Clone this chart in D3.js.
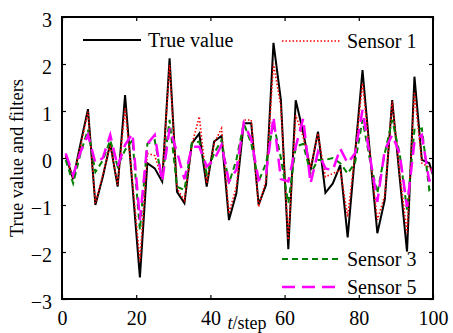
<!DOCTYPE html>
<html><head><meta charset="utf-8">
<script src="https://cdn.jsdelivr.net/npm/d3@7"></script>
<style>body{margin:0;background:#fff}svg{display:block}text{font-family:"Liberation Serif","Times New Roman",serif}</style>
</head><body>
<svg id="c" width="453" height="333"></svg>
<script>
const steps = [1,3,5,7,9,11,13,15,17,19,21,23,25,27,29,31,33,35,37,39,41,43,45,47,49,51,53,55,57,59,61,63,65,67,69,71,73,75,77,79,81,83,85,87,89,91,93,95,97,99,100];
const trueValue = [0.06,-0.45,0.31,1.04,-1.0,-0.4,0.31,-0.61,1.34,-0.6,-2.54,-0.11,-0.22,-0.5,2.12,-0.72,-0.96,0.31,0.52,-0.61,0.35,0.47,-1.32,-0.75,0.74,0.74,-0.99,-0.57,2.45,1.23,-1.94,1.23,0.55,-0.26,0.56,-0.74,-0.54,-0.15,-1.69,0.1,1.87,0.1,-1.6,-0.89,1.23,-0.4,-1.99,1.73,-0.04,-0.11,-0.36];
const sensor1 = [0.03,-0.43,0.24,0.99,-0.96,-0.36,0.28,-0.57,1.06,-0.5,-2.2,0.1,0.05,-0.45,1.98,-0.65,-0.9,0.28,0.88,-0.54,0.31,0.63,-1.18,-0.61,0.81,0.81,-1.04,-0.47,2.01,1.1,-1.74,0.91,0.45,-0.2,0.52,-0.4,-0.33,-0.26,-1.25,0.1,1.59,0.1,-1.32,-0.8,1.2,-0.3,-1.6,1.41,-0.11,-0.2,-0.3];
const sensor3 = [-0.04,-0.54,0.1,0.6,-0.3,-0.05,0.38,-0.18,0.17,0.38,-1.53,0.3,0.38,-0.47,0.81,-0.61,-0.68,0.31,0.35,-0.33,0.1,0.38,-0.54,-0.04,0.74,0.31,-0.5,-0.11,0.74,0.0,-0.96,0.24,0.3,-0.33,-0.04,-0.04,0.0,-0.11,-0.33,-0.1,0.81,-0.04,-0.75,0.1,0.81,0.1,-1.1,0.6,0.63,-0.68,-0.6];
const sensor5 = [0.1,-0.36,0.13,0.49,-0.1,0.0,0.49,-0.18,0.28,0.52,-1.32,0.3,0.49,-0.5,0.63,0.13,-0.45,0.24,0.24,-0.18,-0.04,0.28,-0.5,-0.25,0.74,0.4,-0.47,-0.33,0.88,-0.45,-0.5,0.24,0.84,-0.54,0.13,-0.22,-0.26,0.2,-0.11,0.1,1.02,0.03,-0.93,0.17,0.49,0.1,-1.04,0.35,0.49,-0.5,-0.2];
const xTicks = [0,20,40,60,80,100];
const yTicks = [-3,-2,-1,0,1,2,3];
const seriesNames = ["True value","Sensor 1","Sensor 3","Sensor 5"];

const svg = d3.select("#c");
const L=62, R=433, T=17, B=299;
const x = d3.scaleLinear().domain([0,100]).range([L,R]);
const y = d3.scaleLinear().domain([-3,3]).range([B,T]);

const styles = [
  {data:trueValue, color:"#000", width:2, dash:null},
  {data:sensor1, color:"#ff0000", width:1.6, dash:"1.5,2"},
  {data:sensor3, color:"#008000", width:2, dash:"6,4"},
  {data:sensor5, color:"#ff00ff", width:2.5, dash:"13,7"}
];
const line = d3.line().x((d,i)=>x(steps[i])).y(d=>y(d));
styles.forEach(s=>{
  svg.append("path").attr("d", line(s.data)).attr("fill","none")
    .attr("stroke", s.color).attr("stroke-width", s.width)
    .attr("stroke-dasharray", s.dash).attr("stroke-linejoin","miter");
});

function styleAxis(g, labels){
  g.select(".domain").remove();
  g.selectAll(".tick line").attr("stroke","#000").attr("stroke-width",1.2);
  g.selectAll("text").attr("font-size", labels?20:0).attr("fill","#000");
}
svg.append("g").attr("transform",`translate(0,${B})`)
  .call(d3.axisBottom(x).tickValues(xTicks).tickSize(-4).tickPadding(12).tickFormat(d3.format("d")))
  .call(g=>styleAxis(g,true));
svg.append("g").attr("transform",`translate(0,${T})`)
  .call(d3.axisTop(x).tickValues(xTicks).tickSize(-4).tickFormat(""))
  .call(g=>styleAxis(g,false));
svg.append("g").attr("transform",`translate(${L},0)`)
  .call(d3.axisLeft(y).tickValues(yTicks).tickSize(-4).tickPadding(10).tickFormat(d3.format("d")))
  .call(g=>styleAxis(g,true))
  .call(g=>g.selectAll("text").attr("dy","0.45em"));
svg.append("g").attr("transform",`translate(${R},0)`)
  .call(d3.axisRight(y).tickValues(yTicks).tickSize(-4).tickFormat(""))
  .call(g=>styleAxis(g,false));

svg.append("rect").attr("x",L).attr("y",T).attr("width",R-L).attr("height",B-T)
  .attr("fill","none").attr("stroke","#000").attr("stroke-width",2);

// legend
const legendPos = [[83,40],[282,41],[282,259],[282,287]];
styles.forEach((s,i)=>{
  const [lx,ly] = legendPos[i];
  svg.append("line").attr("x1",lx).attr("x2",lx+58).attr("y1",ly).attr("y2",ly)
    .attr("stroke",s.color).attr("stroke-width",s.width).attr("stroke-dasharray",s.dash);
  svg.append("text").attr("x",lx+65).attr("y",ly+7).attr("font-size",20).text(seriesNames[i]);
});

// axis titles
const xl = svg.append("text").attr("x",247).attr("y",329).attr("font-size",18).attr("text-anchor","middle");
xl.append("tspan").attr("font-style","italic").text("t");
xl.append("tspan").text("/step");
svg.append("text").attr("transform","translate(23,158) rotate(-90)").attr("text-anchor","middle")
  .attr("font-size",18.5).text("True value and filters");
</script>
</body></html>
